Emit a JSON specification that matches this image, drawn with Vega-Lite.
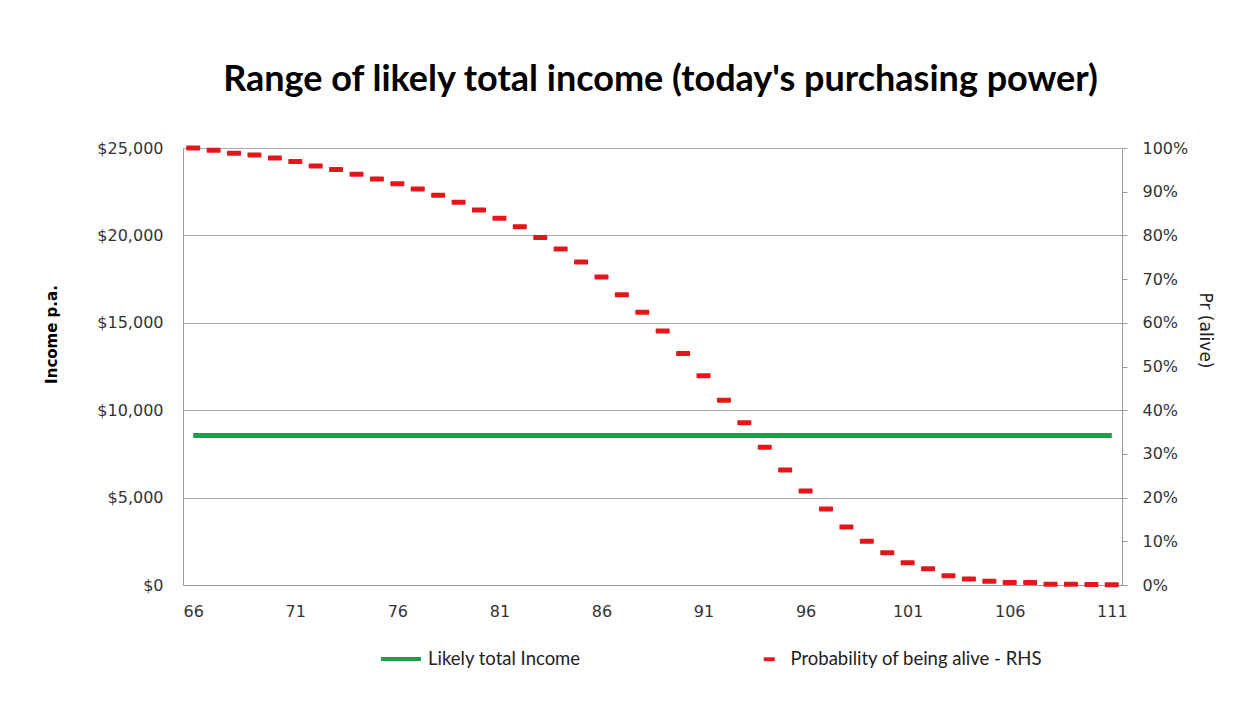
{
  "$schema": "https://vega.github.io/schema/vega-lite/v6.json",
  "autosize": {"type": "none"},
  "width": 939,
  "height": 437,
  "padding": {"left": 183, "top": 148, "right": 130, "bottom": 128},
  "background": "white",
  "config": {
    "view": {"stroke": null},
    "axis": {"labelFont": "DejaVu Sans", "labelFontSize": 16, "labelColor": "#333333", "domainColor": "#9a9a9a", "gridColor": "#a8a8a8"}
  },
  "title": {
    "text": "Range of likely total income (today's purchasing power)",
    "font": "Lato",
    "fontSize": 36,
    "fontWeight": "bold",
    "color": "#000000",
    "anchor": "middle",
    "dx": 8,
    "offset": 41
  },
  "data": {
    "values": [
      {"age": 66, "income": 8550, "prob": 1.0},
      {"age": 67, "income": 8550, "prob": 0.995},
      {"age": 68, "income": 8550, "prob": 0.988},
      {"age": 69, "income": 8550, "prob": 0.984},
      {"age": 70, "income": 8550, "prob": 0.977},
      {"age": 71, "income": 8550, "prob": 0.969},
      {"age": 72, "income": 8550, "prob": 0.959},
      {"age": 73, "income": 8550, "prob": 0.951},
      {"age": 74, "income": 8550, "prob": 0.94},
      {"age": 75, "income": 8550, "prob": 0.929},
      {"age": 76, "income": 8550, "prob": 0.918},
      {"age": 77, "income": 8550, "prob": 0.906},
      {"age": 78, "income": 8550, "prob": 0.892},
      {"age": 79, "income": 8550, "prob": 0.876},
      {"age": 80, "income": 8550, "prob": 0.858},
      {"age": 81, "income": 8550, "prob": 0.839},
      {"age": 82, "income": 8550, "prob": 0.82},
      {"age": 83, "income": 8550, "prob": 0.795},
      {"age": 84, "income": 8550, "prob": 0.769},
      {"age": 85, "income": 8550, "prob": 0.739},
      {"age": 86, "income": 8550, "prob": 0.705},
      {"age": 87, "income": 8550, "prob": 0.664},
      {"age": 88, "income": 8550, "prob": 0.624},
      {"age": 89, "income": 8550, "prob": 0.581},
      {"age": 90, "income": 8550, "prob": 0.53},
      {"age": 91, "income": 8550, "prob": 0.479},
      {"age": 92, "income": 8550, "prob": 0.423},
      {"age": 93, "income": 8550, "prob": 0.371},
      {"age": 94, "income": 8550, "prob": 0.315},
      {"age": 95, "income": 8550, "prob": 0.263},
      {"age": 96, "income": 8550, "prob": 0.215},
      {"age": 97, "income": 8550, "prob": 0.174},
      {"age": 98, "income": 8550, "prob": 0.133},
      {"age": 99, "income": 8550, "prob": 0.1},
      {"age": 100, "income": 8550, "prob": 0.074},
      {"age": 101, "income": 8550, "prob": 0.051},
      {"age": 102, "income": 8550, "prob": 0.037},
      {"age": 103, "income": 8550, "prob": 0.021},
      {"age": 104, "income": 8550, "prob": 0.014},
      {"age": 105, "income": 8550, "prob": 0.0085},
      {"age": 106, "income": 8550, "prob": 0.006},
      {"age": 107, "income": 8550, "prob": 0.0055},
      {"age": 108, "income": 8550, "prob": 0.002},
      {"age": 109, "income": 8550, "prob": 0.0015},
      {"age": 110, "income": 8550, "prob": 0.001},
      {"age": 111, "income": 8550, "prob": 0.0005}
    ]
  },
  "encoding": {
    "x": {
      "field": "age",
      "type": "ordinal",
      "scale": {"type": "point", "padding": 0.5},
      "axis": {
        "title": null,
        "values": [66, 71, 76, 81, 86, 91, 96, 101, 106, 111],
        "labelAngle": 0,
        "ticks": false,
        "tickSize": 0,
        "labelPadding": 18,
        "grid": false
      }
    }
  },
  "layer": [
    {
      "mark": {"type": "line", "strokeWidth": 5},
      "encoding": {
        "y": {
          "field": "income",
          "type": "quantitative",
          "scale": {"domain": [0, 25000]},
          "axis": {
            "title": "Income p.a.",
            "titleFont": "DejaVu Sans",
            "titleFontSize": 15,
            "titleFontWeight": "bold",
            "titleColor": "#000000",
            "titlePadding": 37,
            "titleY": 186,
            "values": [0, 5000, 10000, 15000, 20000, 25000],
            "format": "$,.0f",
            "ticks": false,
            "tickSize": 0,
            "labelPadding": 20,
            "grid": true
          }
        },
        "stroke": {
          "datum": "Likely total Income",
          "type": "nominal",
          "scale": {"range": ["#1d9e4b"]},
          "legend": {
            "title": null,
            "orient": "none",
            "legendX": 196,
            "legendY": 489,
            "symbolType": "stroke",
            "symbolSize": 1600,
            "symbolStrokeWidth": 4,
            "labelFont": "Lato",
            "labelFontSize": 18.5,
            "labelColor": "#222222",
            "labelOffset": 5,
            "labelLimit": 400
          }
        }
      }
    },
    {
      "mark": {"type": "tick", "size": 14, "thickness": 5, "cornerRadius": 1, "opacity": 1},
      "encoding": {
        "y": {
          "field": "prob",
          "type": "quantitative",
          "scale": {"domain": [0, 1]},
          "axis": {
            "orient": "right",
            "title": "Pr (alive)",
            "titleFont": "DejaVu Sans",
            "titleFontSize": 17,
            "titleFontWeight": "normal",
            "titleColor": "#222222",
            "titlePadding": 8,
            "titleY": 182,
            "values": [0, 0.1, 0.2, 0.3, 0.4, 0.5, 0.6, 0.7, 0.8, 0.9, 1],
            "format": ".0%",
            "ticks": true,
            "tickSize": 5,
            "tickColor": "#9a9a9a",
            "labelPadding": 15,
            "grid": false
          }
        },
        "fill": {
          "datum": "Probability of being alive - RHS",
          "type": "nominal",
          "scale": {"range": ["#e3161b"]},
          "legend": {
            "title": null,
            "orient": "none",
            "legendX": 577,
            "legendY": 502,
            "symbolType": "M-1,-0.35H1V0.35H-1Z",
            "symbolSize": 121,
            "symbolStrokeWidth": 0,
            "symbolOpacity": 1,
            "labelFont": "Lato",
            "labelFontSize": 18.5,
            "labelColor": "#222222",
            "labelOffset": 12,
            "labelLimit": 400
          }
        }
      }
    }
  ],
  "resolve": {"scale": {"y": "independent", "stroke": "independent", "fill": "independent"}}
}
